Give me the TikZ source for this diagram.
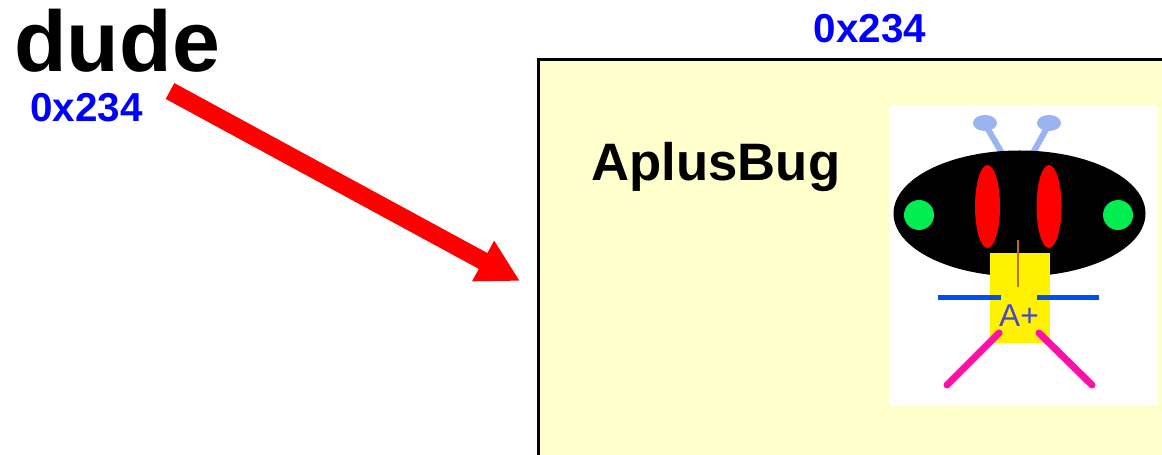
\documentclass[tikz,border=0pt]{standalone}
\usepackage{fontspec}
\setmainfont{Liberation Sans}
\usetikzlibrary{arrows.meta,positioning}

\definecolor{panelfill}{RGB}{255,255,204}
\definecolor{addrblue}{RGB}{0,0,255}
\definecolor{eyegreen}{RGB}{0,238,80}
\definecolor{antenna}{RGB}{153,180,240}
\definecolor{stemorange}{RGB}{192,112,0}
\definecolor{armblue}{RGB}{0,80,240}
\definecolor{gradeblue}{RGB}{72,72,200}
\definecolor{legpink}{RGB}{255,16,168}

\begin{document}
\begin{tikzpicture}[x=0.02cm,y=-0.02cm]
\tikzset{
  bigname/.style={inner sep=0pt,font=\fontsize{49}{49}\selectfont\bfseries},
  classname/.style={inner sep=0pt,font=\fontsize{30}{30}\selectfont\bfseries},
  address/.style={inner sep=0pt,text=addrblue,font=\fontsize{23}{23}\selectfont\bfseries},
  panel/.style={draw=black,fill=panelfill,line width=0.06cm,anchor=north west,
    minimum width=14cm,minimum height=8.4cm},
  pointer/.style={draw=red,line width=0.36cm,-{Triangle[length=0.84cm,width=0.86cm]}},
  bugline/.style={line width=#1,line cap=round}
}
\clip (0,0) rectangle (1162,455);

% reference variable and its address
\node[bigname,anchor=base west] (n_dude) at (14,72) {dude};
\node[address,anchor=base west] (n_ref) at (30,122) {0x234};

% object on the heap
\node[panel] (n_panel) at (537,58) {};
\node[address,anchor=base] (n_addr) at (870,43) {0x234};
\node[classname,anchor=base west] (n_cls) at (591,181) {AplusBug};

% pointer from the variable to the object
\coordinate (c_tail) at (170,91);
\coordinate (c_tip) at (520,281);
\draw[pointer] (c_tail) -- (c_tip);

% bug picture
\fill[white] (889,105) rectangle (1158,405);
\draw[antenna,bugline=0.12cm] (1007,162) -- (985,124);
\draw[antenna,bugline=0.12cm] (1028,162) -- (1049,124);
\fill[antenna] (985,123) ellipse [x radius=12,y radius=8];
\fill[antenna] (1049,123) ellipse [x radius=12,y radius=8];
\fill[black] (1019.5,213.5) ellipse [x radius=126,y radius=63];
\fill[red] (987.5,206.5) ellipse [x radius=12.5,y radius=41.5];
\fill[red] (1049,206.5) ellipse [x radius=12.5,y radius=41.5];
\fill[eyegreen] (919,215) circle [radius=15];
\fill[eyegreen] (1118,215) circle [radius=15];
\fill[yellow] (990,253) rectangle (1050,343);
\draw[stemorange,line width=0.05cm] (1018,240) -- (1018,287);
\draw[armblue,line width=0.1cm] (938,298) -- (1001,298);
\draw[armblue,line width=0.1cm] (1037,298) -- (1099,298);
\node[inner sep=0pt,text=gradeblue,font=\fontsize{18}{18}\selectfont] (n_grade) at (1019,316) {A+};
\draw[legpink,bugline=0.14cm] (999,333) -- (947,385);
\draw[legpink,bugline=0.14cm] (1039,333) -- (1092,385);
\end{tikzpicture}
\end{document}
